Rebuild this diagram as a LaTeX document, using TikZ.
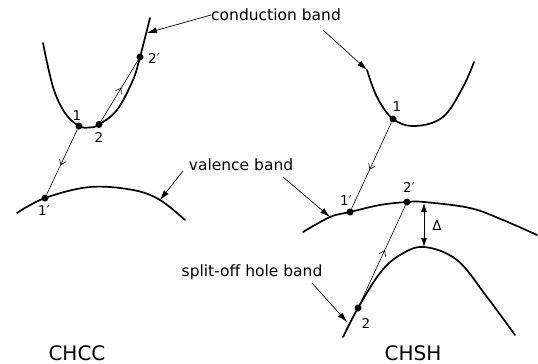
\documentclass[tikz,border=0pt]{standalone}
\usepackage{fontspec}
\setmainfont{DejaVu Sans}
\usetikzlibrary{arrows.meta,decorations.markings}
\tikzset{
  band/.style={line width=1.7pt,line cap=round},
  trans/.style={line width=0.6pt,
    postaction={decorate},decoration={markings,
      mark=at position 0.55 with {\arrow{Straight Barb[length=5pt,width=7pt]}}}}, % transition
  lblarrow/.style={-{Latex[length=10pt,width=6pt]},line width=0.7pt},
  gap/.style={{Latex[length=9pt,width=6pt]}-{Latex[length=9pt,width=6pt]},line width=0.8pt},
  dot/.style={circle,fill=black,inner sep=0pt,minimum size=7pt},
  lbl/.style={font=\fontsize{15.5}{17}\selectfont,inner sep=0pt},
  num/.style={font=\fontsize{13.5}{15}\selectfont,inner sep=0pt},
  ttl/.style={font=\fontsize{20}{22}\selectfont,inner sep=0pt},
}
\begin{document}
\begin{tikzpicture}[x=1pt,y=-1pt]
  \useasboundingbox (0,0) rectangle (538,364);
  % ---- CHCC ----
  \draw[band] plot[smooth,tension=0.6] coordinates {(43,43) (53,87) (65,113) (79,126)
    (90,127.5) (99,124.5) (117,110) (133,80) (140,57) (150,18)};
  \draw[band] plot[smooth,tension=0.6] coordinates {(17,213) (45,198) (90,187)
    (133,190) (160,200) (185,220)};
  \node[dot] (l1) at (79,126) {};
  \node[dot] (l2) at (99,124.5) {};
  \node[dot] (l2p) at (140,57) {};
  \node[dot] (l1p) at (45,198) {};
  \draw[trans] (l1) -- (l1p);
  \draw[trans] (l2) -- (l2p);
  \node[num] (l1lbl) at (77,116) {1};
  \node[num] (l2lbl) at (99,137) {2};
  \node[num] (l2plbl) at (154,58) {2′};
  \node[num] (l1plbl) at (44,211) {1′};
  % ---- CHSH ----
  \draw[band] plot[smooth,tension=0.6] coordinates {(367,70) (377,97) (393,119)
    (415,126) (443,117) (463,87) (474,62)};
  \draw[band] plot[smooth,tension=0.6] coordinates {(303,232) (330,217) (350,212)
    (380,205) (407,202) (424,202) (470,208) (503,220) (537,235)};
  \draw[band] plot[smooth,tension=0.6] coordinates {(343,337) (358,308) (380,273)
    (400,255) (424,247) (457,260) (487,297) (515,335)};
  \node[dot] (r1) at (393,119) {};
  \node[dot] (r1p) at (350,212) {};
  \node[dot] (r2p) at (407,202) {};
  \node[dot] (r2) at (358,308) {};
  \draw[trans] (r1) -- (r1p);
  \draw[trans] (r2) -- (r2p);
  \node[num] (r1lbl) at (397,107) {1};
  \node[num] (r1plbl) at (346,201) {1′};
  \node[num] (r2plbl) at (409,187) {2′};
  \node[num] (r2lbl) at (366,323) {2};
  \coordinate (vbtop) at (424,203);
  \coordinate (sotop) at (424,247);
  \draw[gap] (vbtop) -- (sotop);
  \node[num] (dlbl) at (437,226) {Δ};
  % ---- band labels ----
  \node[lbl] (cbtxt) at (276,15) {conduction band};
  \node[lbl] (vbtxt) at (241,165) {valence band};
  \node[lbl] (sotxt) at (252,272) {split-off hole band};
  \coordinate (cbL) at (147,33);
  \coordinate (cbtail) at (323,30);
  \coordinate (cbR) at (367,70);
  \coordinate (vbLtail) at (183,171);
  \coordinate (vbL) at (160,200);
  \coordinate (vbRtail) at (283,177);
  \coordinate (vbR) at (330,217);
  \coordinate (sotail) at (312,283);
  \coordinate (so) at (347,322);
  \draw[lblarrow] (cbtxt.west) -- (cbL);
  \draw[lblarrow] (cbtail) -- (cbR);
  \draw[lblarrow] (vbLtail) -- (vbL);
  \draw[lblarrow] (vbRtail) -- (vbR);
  \draw[lblarrow] (sotail) -- (so);
  \node[ttl] (chcc) at (77,353) {CHCC};
  \node[ttl] (chsh) at (413,353) {CHSH};
\end{tikzpicture}
\end{document}
